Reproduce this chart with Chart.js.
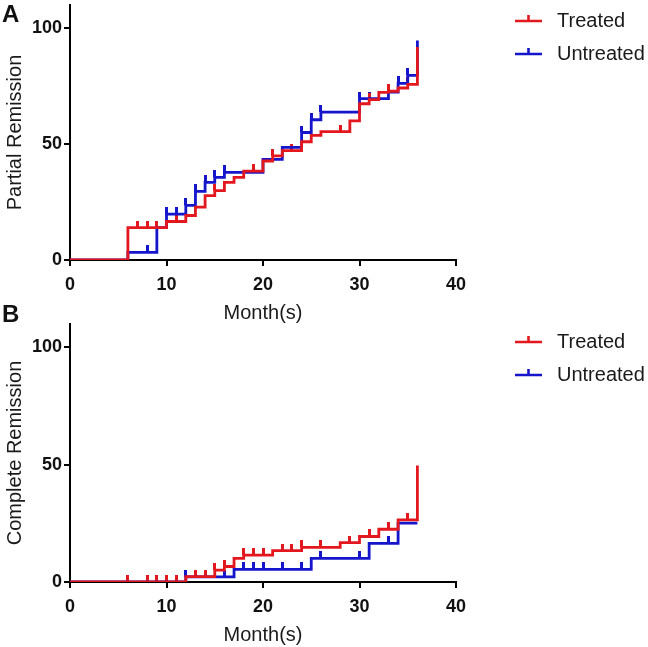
<!DOCTYPE html>
<html>
<head>
<meta charset="utf-8">
<script src="https://cdn.jsdelivr.net/npm/chart.js@4.4.1/dist/chart.umd.min.js"></script>
<style>
  body { margin: 0; background: #fff; width: 648px; height: 647px; position: relative; overflow: hidden; }
  canvas { position: absolute; left: 0; }
  #chartA { top: 0; }
  #chartB { top: 298px; }
</style>
</head>
<body>
<canvas id="chartA" width="648" height="325"></canvas>
<canvas id="chartB" width="648" height="349"></canvas>
<script>
// months / percent, step points (value changes at that month)
const partialTreated = [[0,0],[6,14],[10,16.6],[12,19.2],[13,22.8],[14,27.8],[15,29.9],[16,33.5],[17,35.6],[18,38.3],[20,42.7],[21,44.9],[22,47.2],[24,51],[25,53.8],[26,55.4],[29,60],[30,67.4],[31,69.2],[32,72.3],[33,72.8],[34,74.2],[35,75.8],[36,91.9]];
const partialUntreated = [[0,0],[6,3.3],[9,14],[10,19.8],[12,23.6],[13,29.6],[14,33.5],[15,35.6],[16,37.8],[20,43.4],[22,48.6],[24,55],[25,60.5],[26,63.8],[30,69.6],[33,72.4],[34,76.2],[35,79.6],[36,94.7]];
const partialTreatedCens = [[7,14],[8,14],[9,14],[11,16.6],[15,29.9],[19,38.3],[21,44.9],[23,47.2],[28,55.4],[31,69.2],[33,72.8],[35,75.8]];
const partialUntreatedCens = [[8,3.3],[10,19.8],[11,19.8],[12,23.6],[13,29.6],[14,33.5],[15,35.6],[16,37.8],[24,55],[25,60.5],[26,63.8],[30,69.6],[31,69.6],[34,76.2],[35,79.6]];

const completeTreated = [[0,0],[12,2.3],[15,5.1],[16,6.6],[17,10.1],[18,11.5],[21,13.4],[24,14.8],[28,16.8],[30,19.4],[32,22.5],[34,26.5],[36,49.7]];
const completeUntreated = [[0,0],[12,2.2],[17,5.4],[25,10.1],[31,16.5],[34,25.1],[36,25.1]];
const completeTreatedCens = [[6,0],[8,0],[9,0],[10,0],[11,0],[13,2.3],[14,2.3],[15,5.1],[16,6.6],[18,11.5],[19,11.5],[20,11.5],[22,13.4],[23,13.4],[24,14.8],[26,14.8],[29,16.8],[31,19.4],[33,22.5],[35,26.5]];
const completeUntreatedCens = [[12,2.2],[16,2.2],[18,5.4],[19,5.4],[20,5.4],[22,5.4],[24,5.4],[26,10.1],[30,10.1],[33,16.5]];

const xTicks = [0, 10, 20, 30, 40];
const yTicks = [0, 50, 100];

const RED = '#e3171e';
const BLUE = '#1515cc';
const FONT = '"Liberation Sans", Arial, sans-serif';

const toXY = (arr) => arr.map(p => ({ x: p[0], y: p[1] }));

// upward censor tick as a point image
const makeTick = (color) => {
  const c = document.createElement('canvas');
  c.width = 3;
  c.height = 14;
  const g = c.getContext('2d');
  g.fillStyle = color;
  g.fillRect(0, 0, 3, 7);
  return c;
};

const sideLegend = {
  id: 'sideLegend',
  afterDraw(chart, args, opts) {
    const ctx = chart.ctx;
    ctx.save();
    const items = chart.data.datasets.filter(d => d.inLegend);
    items.forEach((d, i) => {
      const y = opts.top + i * 33;
      ctx.strokeStyle = d.borderColor;
      ctx.lineWidth = 2.6;
      ctx.beginPath();
      ctx.moveTo(515, y);
      ctx.lineTo(542, y);
      ctx.moveTo(528.5, y);
      ctx.lineTo(528.5, y - 6);
      ctx.stroke();
      ctx.fillStyle = '#1a1a1a';
      ctx.font = '20px ' + FONT;
      ctx.textBaseline = 'middle';
      ctx.textAlign = 'left';
      ctx.fillText(d.label, 557, y);
    });
    ctx.fillStyle = '#111';
    ctx.font = 'bold 24px ' + FONT;
    ctx.textBaseline = 'middle';
    ctx.fillText(opts.letter, 2, opts.letterY);
    ctx.restore();
  }
};

const makePanel = (id, cfg) => {
  const stepSet = (label, data, color) => ({
    label: label, data: toXY(data), borderColor: color, backgroundColor: color,
    borderWidth: 2.8, stepped: 'before', pointRadius: 0, fill: false, inLegend: true
  });
  const censSet = (data, color) => ({
    data: toXY(data), showLine: false, pointStyle: makeTick(color),
    borderColor: color, backgroundColor: color, pointRadius: 4
  });

  new Chart(document.getElementById(id), {
    type: 'line',
    data: {
      datasets: [
        stepSet('Treated', cfg.treated, RED),
        stepSet('Untreated', cfg.untreated, BLUE),
        censSet(cfg.treatedCens, RED),
        censSet(cfg.untreatedCens, BLUE),
      ],
    },
    options: {
      responsive: false,
      animation: false,
      layout: { padding: { left: 0, right: 192, top: cfg.top, bottom: 0 } },
      plugins: {
        legend: { display: false },
        tooltip: { enabled: false },
        sideLegend: { top: cfg.legendTop, letter: cfg.letter, letterY: cfg.letterY },
      },
      scales: {
        x: {
          type: 'linear', min: 0, max: 40,
          afterBuildTicks: (s) => { s.ticks = xTicks.map(v => ({ value: v })); },
          afterFit: (s) => { s.height = 65; s.paddingLeft = 0; s.paddingRight = 0; },
          border: { display: true, color: '#000', width: 2 },
          grid: { display: true, drawOnChartArea: false, drawTicks: true, tickLength: 6, color: '#000', lineWidth: 2 },
          ticks: { color: '#111', padding: 8, font: { family: FONT, size: 18, weight: 'bold' }, maxRotation: 0 },
          title: { display: true, text: 'Month(s)', color: '#1a1a1a', padding: { top: 0, bottom: 0 }, font: { family: FONT, size: 20 } },
        },
        y: {
          min: 0, max: 110,
          afterBuildTicks: (s) => { s.ticks = yTicks.map(v => ({ value: v })); },
          afterFit: (s) => { s.width = 70; s.paddingTop = 0; s.paddingBottom = 0; },
          border: { display: true, color: '#000', width: 2 },
          grid: { display: true, drawOnChartArea: false, drawTicks: true, tickLength: 6, color: '#000', lineWidth: 2 },
          ticks: { color: '#111', padding: 2, font: { family: FONT, size: 18, weight: 'bold' } },
          title: { display: true, text: cfg.yTitle, color: '#1a1a1a', padding: { top: 3, bottom: 0 }, font: { family: FONT, size: 20 } },
        },
      },
    },
    plugins: [sideLegend],
  });
};

makePanel('chartA', {
  treated: partialTreated, untreated: partialUntreated,
  treatedCens: partialTreatedCens, untreatedCens: partialUntreatedCens,
  yTitle: 'Partial Remission', top: 2, legendTop: 21, letter: 'A', letterY: 15,
});

makePanel('chartB', {
  treated: completeTreated, untreated: completeUntreated,
  treatedCens: completeTreatedCens, untreatedCens: completeUntreatedCens,
  yTitle: 'Complete Remission', top: 26, legendTop: 44, letter: 'B', letterY: 17,
});
</script>
</body>
</html>
